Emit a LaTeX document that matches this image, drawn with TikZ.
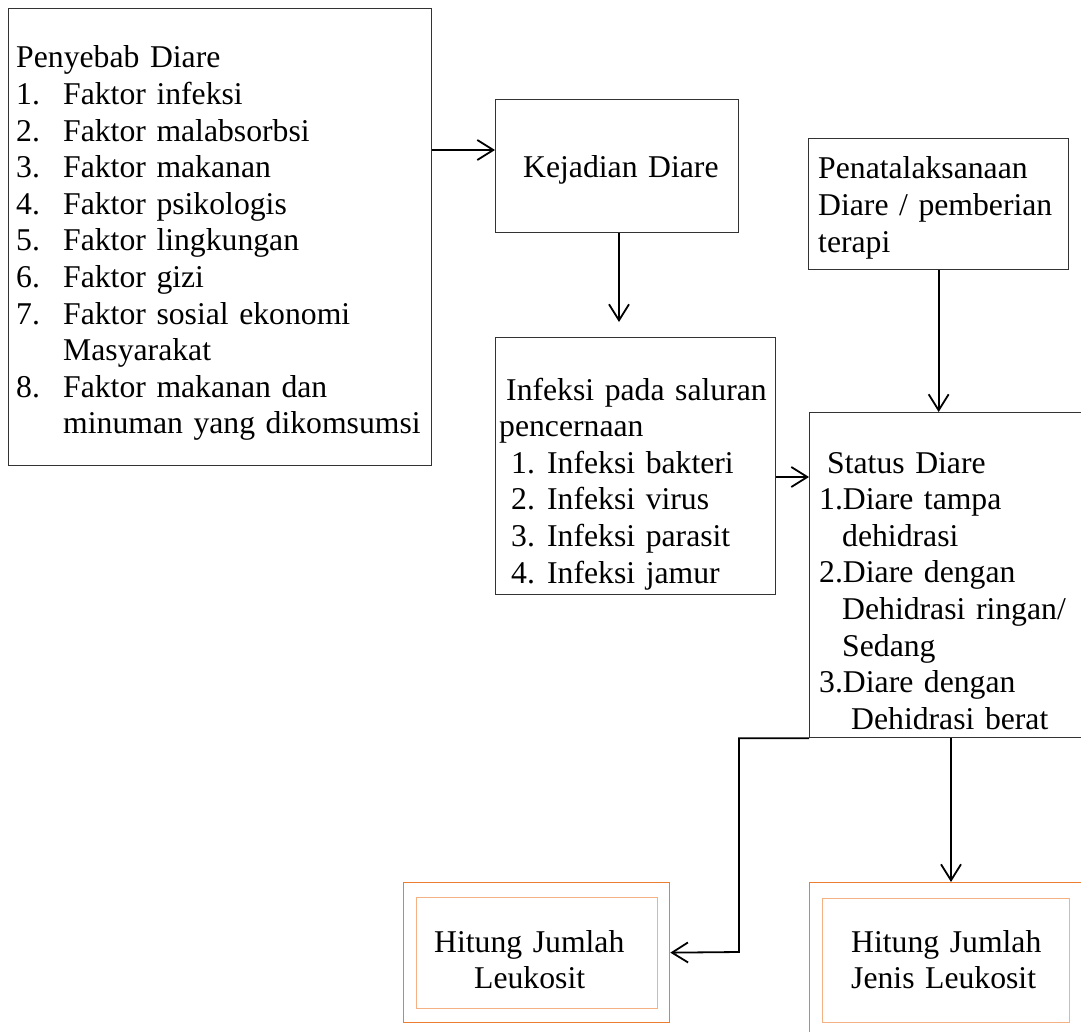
\documentclass[tikz,border=0pt]{standalone}
\usepackage{fontspec}
\setmainfont{Liberation Serif}
\usetikzlibrary{arrows.meta}
\definecolor{orgout}{HTML}{ED7D31}
\definecolor{orgin}{HTML}{F4B183}
\begin{document}
\begin{tikzpicture}[x=1pt,y=-1pt,
  box/.style={draw=black!80, line width=1.3pt, inner sep=0pt, rectangle, anchor=north west},
  obox/.style={box, draw=orgout},
  ibox/.style={box, draw=orgin},
  txt/.style={inner sep=0pt, anchor=base west, align=left, text width=600pt,
    font=\fontsize{31.7}{36.6}\selectfont},
  arr/.style={draw=black, line width=1.8pt, -{Straight Barb[length=16pt,width=20pt]}}]
\useasboundingbox (0,0) rectangle (1081,1032);
\clip (0,0) rectangle (1081,1032);

% boxes
\node[box, minimum width=423pt, minimum height=457pt] (penyebab) at (8,8) {};
\node[box, minimum width=243pt, minimum height=133pt] (kejadian) at (495,99) {};
\node[box, minimum width=280pt, minimum height=257pt] (infeksi) at (495,337) {};
\node[box, minimum width=260pt, minimum height=131pt] (penata) at (808,138) {};
\node[box, minimum width=300pt, minimum height=325pt] (status) at (809,412) {};
\node[obox, minimum width=266pt, minimum height=140pt] (leukout) at (403,882) {};
\node[ibox, minimum width=241pt, minimum height=111pt] (leukin) at (416,897) {};
\node[obox, minimum width=300pt, minimum height=200pt] (jenisout) at (809,882) {};
\node[ibox, minimum width=247pt, minimum height=124pt] (jenisin) at (822,898) {};

% texts
\node[txt] (tpenyebab) at (16,68) {Penyebab Diare\\
\makebox[47pt][l]{1.}Faktor infeksi\\
\makebox[47pt][l]{2.}Faktor malabsorbsi\\
\makebox[47pt][l]{3.}Faktor makanan\\
\makebox[47pt][l]{4.}Faktor psikologis\\
\makebox[47pt][l]{5.}Faktor lingkungan\\
\makebox[47pt][l]{6.}Faktor gizi\\
\makebox[47pt][l]{7.}Faktor sosial ekonomi\\
\hspace*{47pt}Masyarakat\\
\makebox[47pt][l]{8.}Faktor makanan dan\\
\hspace*{47pt}minuman yang dikomsumsi};

\node[txt] (tkejadian) at (523,178) {Kejadian Diare};

\node[txt] (tinfeksi) at (499,400) {\hspace*{7pt}Infeksi pada saluran\\
pencernaan\\
\hspace*{12pt}\makebox[36pt][l]{1.}Infeksi bakteri\\
\hspace*{12pt}\makebox[36pt][l]{2.}Infeksi virus\\
\hspace*{12pt}\makebox[36pt][l]{3.}Infeksi parasit\\
\hspace*{12pt}\makebox[36pt][l]{4.}Infeksi jamur};

\node[txt] (tpenata) at (818,179) {Penatalaksanaan\\
Diare / pemberian\\
terapi};

\node[txt] (tstatus) at (819,473) {\hspace*{8pt}Status Diare\\
1.Diare tampa\\
\hspace*{23pt}dehidrasi\\
2.Diare dengan\\
\hspace*{23pt}Dehidrasi ringan/\\
\hspace*{23pt}Sedang\\
3.Diare dengan\\
\hspace*{32pt}Dehidrasi berat};

\node[txt] (tleuk) at (434,952) {Hitung Jumlah\\
\hspace*{40pt}Leukosit};

\node[txt] (tjenis) at (851,952) {Hitung Jumlah\\
Jenis Leukosit};

% connectors
\coordinate (y1) at (0,150);
\draw[arr] (penyebab.east |- y1) -- (kejadian.west |- y1);
\coordinate (k2) at (619,322);
\draw[arr] (kejadian.south -| k2) -- (k2);
\coordinate (y3) at (0,477);
\draw[arr] (infeksi.east |- y3) -- (status.west |- y3);
\draw[arr] (penata.south) -- (penata.south |- status.north);
\coordinate (c1) at (739,952);
\draw[arr] (status.south west) -| (c1) -- (leukout.east);
\coordinate (c2) at (951,0);
\draw[arr] (status.south -| c2) -- (jenisout.north -| c2);
\end{tikzpicture}
\end{document}
